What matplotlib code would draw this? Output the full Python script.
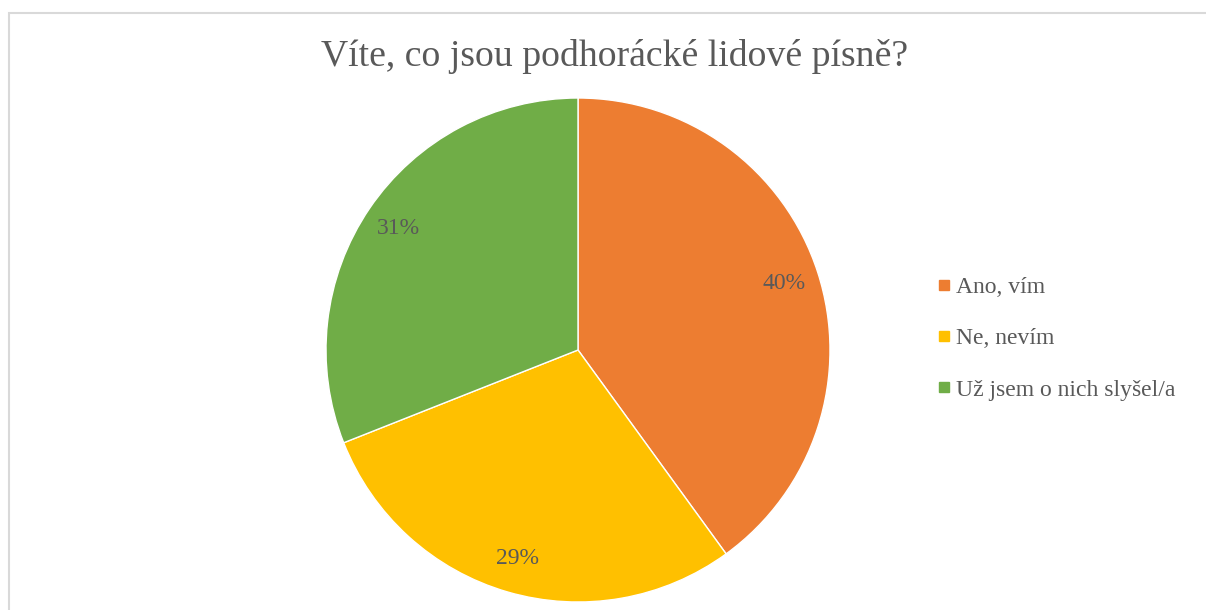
import matplotlib
matplotlib.use("Agg")
import matplotlib.pyplot as plt
from matplotlib.lines import Line2D
from matplotlib.patches import Rectangle

title = "Víte, co jsou podhorácké lidové písně?"
categories = ["Ano, vím", "Ne, nevím", "Už jsem o nich slyšel/a"]
values = [40, 29, 31]
colors = ["#ED7D31", "#FFC000", "#70AD47"]
text_color = "#595959"

plt.rcParams['font.family'] = ['Liberation Serif', 'DejaVu Serif']

W, H = 1206, 610
fig = plt.figure(figsize=(W / 100, H / 100), dpi=100)
ax = fig.add_axes([0, 0, 1, 1])

# chart border
ax.add_patch(Rectangle((8.5, -10), W + 20, H - 12.5 + 10, fill=False,
                       edgecolor="#D9D9D9", linewidth=1.5))

wedges, texts, autotexts = ax.pie(
    values, colors=colors, startangle=90, counterclock=False,
    center=(578, H - 350), radius=252, autopct='%1.0f%%', pctdistance=0.86,
    wedgeprops=dict(edgecolor='white', linewidth=1),
    textprops=dict(color=text_color, fontsize=17), frame=True)
ax.set_xlim(0, W)
ax.set_ylim(0, H)
ax.set_aspect('equal')
ax.axis('off')

fig.text(615 / W, 1 - 57 / H, title, ha='center', va='center',
         fontsize=27.2, color=text_color)

handles = [Line2D([], [], marker='s', linestyle='none', markersize=7.5,
                  markerfacecolor=c, markeredgecolor=c) for c in colors]
leg = fig.legend(handles, categories, loc='upper left',
                 bbox_to_anchor=(928 / W, 1 - 267 / H), frameon=False,
                 fontsize=17, labelcolor=text_color, handlelength=0.55,
                 handletextpad=0.22, labelspacing=1.26, borderaxespad=0)

fig.savefig("out.png", dpi=100)
